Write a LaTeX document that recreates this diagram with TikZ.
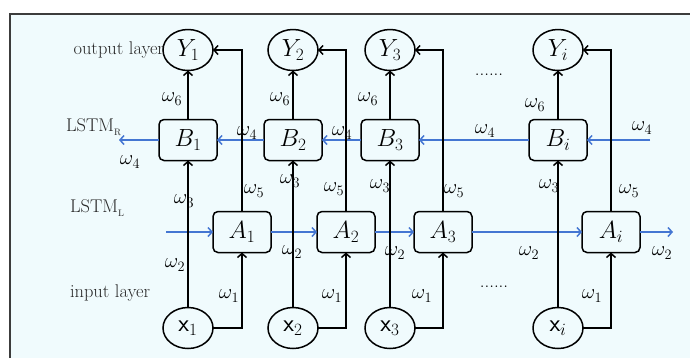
\documentclass[tikz,border=0pt]{standalone}
\usetikzlibrary{shapes.geometric,arrows.meta}
\definecolor{panel}{RGB}{240,251,253}
\definecolor{frameline}{RGB}{60,60,60}
\definecolor{flow}{RGB}{68,118,210}
\definecolor{labeltext}{RGB}{40,40,40}
\begin{document}
\begin{tikzpicture}[x=1bp,y=-1bp,
  every node/.style={inner sep=0pt,outer sep=0pt},
  unit/.style={ellipse,draw,line width=1.5bp,minimum width=50bp,minimum height=41bp,
    font=\fontsize{24}{26}\selectfont},
  cell/.style={rectangle,rounded corners=5bp,draw,line width=1.5bp,minimum width=58bp,
    minimum height=41bp,font=\fontsize{24}{26}\selectfont},
  wire/.style={line width=1.5bp,-{Straight Barb[length=4bp,width=9bp,line width=1.5bp]}},
  bluewire/.style={wire,draw=flow},
  wt/.style={font=\fontsize{22.5}{24}\selectfont},
  layer/.style={font=\fontsize{18.5}{20}\selectfont,text=labeltext},
  dots/.style={font=\fontsize{19}{20}\selectfont}]

% page, panel and its border
\useasboundingbox (0,0) rectangle (690,358);
\fill[white] (0,0) rectangle (690,358);
\fill[panel] (10,14) rectangle (690,358);
\draw[frameline,line width=1.5bp] (10,358) -- (10,14) -- (690,14);

% output layer
\node[unit] (Y1) at (188,50) {$Y_1$};
\node[unit] (Y2) at (293,50) {$Y_2$};
\node[unit] (Y3) at (390,50) {$Y_3$};
\node[unit] (Yi) at (558,50) {$Y_i$};

% backward LSTM cells
\node[cell] (B1) at (188,140) {$B_1$};
\node[cell] (B2) at (293,140) {$B_2$};
\node[cell] (B3) at (390,140) {$B_3$};
\node[cell] (Bi) at (558,140) {$B_i$};

% forward LSTM cells
\node[cell] (A1) at (242,232) {$A_1$};
\node[cell] (A2) at (346,232) {$A_2$};
\node[cell] (A3) at (443,232) {$A_3$};
\node[cell] (Ai) at (611,232) {$A_i$};

% input layer
\node[unit] (x1) at (188,328) {$\mathsf{x}_1$};
\node[unit] (x2) at (293,328) {$\mathsf{x}_2$};
\node[unit] (x3) at (390,328) {$\mathsf{x}_3$};
\node[unit] (xi) at (558,328) {$\mathsf{x}_i$};

% free ends of the recurrent chains
\coordinate (Bout) at (119,140);
\coordinate (Bin) at (650,140);
\coordinate (Ain) at (166,232);
\coordinate (Aout) at (673,232);

% backward chain
\draw[bluewire] (Bin) -- (Bi);
\draw[bluewire] (Bi) -- (B3);
\draw[bluewire] (B3) -- (B2);
\draw[bluewire] (B2) -- (B1);
\draw[bluewire] (B1) -- (Bout);

% forward chain
\draw[bluewire] (Ain) -- (A1);
\draw[bluewire] (A1) -- (A2);
\draw[bluewire] (A2) -- (A3);
\draw[bluewire] (A3) -- (Ai);
\draw[bluewire] (Ai) -- (Aout);

% per time step wiring
\foreach \k in {1,2,3,i}{
  \draw[wire] (x\k.north) -- (B\k.south);
  \draw[wire] (x\k.east) -| (A\k.south);
  \draw[wire] (B\k.north) -- (Y\k.south);
  \draw[wire] (A\k.north) |- (Y\k.east);
}

% weights
\node[wt] (w6a) at (172,99) {$\omega_6$};
\node[wt] (w6b) at (280,99) {$\omega_6$};
\node[wt] (w6c) at (368,99) {$\omega_6$};
\node[wt] (w6d) at (535,105) {$\omega_6$};

\node[wt] (w4a) at (130,162) {$\omega_4$};
\node[wt] (w4b) at (247,133) {$\omega_4$};
\node[wt] (w4c) at (342,133) {$\omega_4$};
\node[wt] (w4d) at (485,131) {$\omega_4$};
\node[wt] (w4e) at (642,128) {$\omega_4$};

\node[wt] (w3a) at (184,201) {$\omega_3$};
\node[wt] (w3b) at (290,181) {$\omega_3$};
\node[wt] (w3c) at (380,186) {$\omega_3$};
\node[wt] (w3d) at (549,186) {$\omega_3$};

\node[wt] (w5a) at (254,191) {$\omega_5$};
\node[wt] (w5b) at (334,189) {$\omega_5$};
\node[wt] (w5c) at (454,191) {$\omega_5$};
\node[wt] (w5d) at (629,191) {$\omega_5$};

\node[wt] (w2a) at (175,265) {$\omega_2$};
\node[wt] (w2b) at (292,252) {$\omega_2$};
\node[wt] (w2c) at (395,253) {$\omega_2$};
\node[wt] (w2d) at (529,253) {$\omega_2$};
\node[wt] (w2e) at (662,253) {$\omega_2$};

\node[wt] (w1a) at (229,296) {$\omega_1$};
\node[wt] (w1b) at (332,296) {$\omega_1$};
\node[wt] (w1c) at (422,296) {$\omega_1$};
\node[wt] (w1d) at (592,296) {$\omega_1$};

% layer names
\node[layer,anchor=east] (outl) at (164,50) {output layer};
\node[layer,anchor=west] (lstmr) at (66,127) {LSTM\raisebox{-4bp}{\fontsize{9.5}{9.5}\selectfont R}};
\node[layer,anchor=west] (lstml) at (70,208) {LSTM\raisebox{-4bp}{\fontsize{9.5}{9.5}\selectfont L}};
\node[layer,anchor=west] (inl) at (70,293) {input layer};

% ellipses for the omitted steps
\node[dots] (dtop) at (489,75) {......};
\node[dots] (dbot) at (494,287) {......};
\end{tikzpicture}
\end{document}
